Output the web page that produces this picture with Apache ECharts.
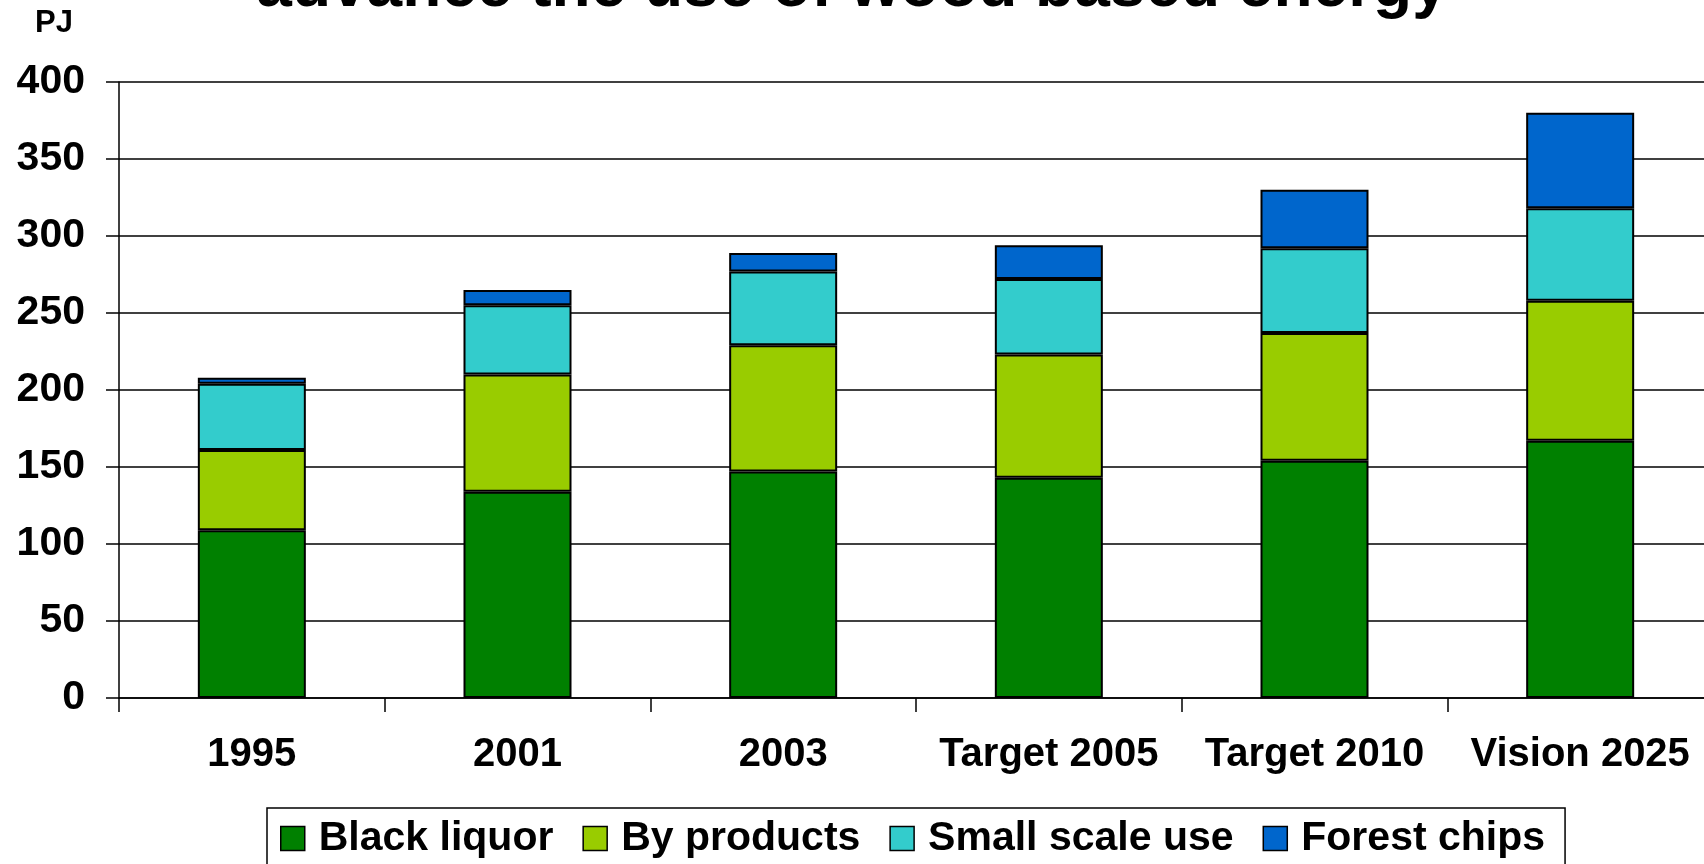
<!DOCTYPE html>
<html>
<head>
<meta charset="utf-8">
<script src="https://cdn.jsdelivr.net/npm/echarts@6/dist/echarts.min.js"></script>
<style>
html,body{margin:0;padding:0;background:#fff;}
#chart{width:1704px;height:864px;}
</style>
</head>
<body>
<div id="chart"></div>
<script>
const titleText = 'advance the use of wood based energy';
const unitLabel = 'PJ';
const categories = ['1995', '2001', '2003', 'Target 2005', 'Target 2010', 'Vision 2025'];
const seriesNames = ['Black liquor', 'By products', 'Small scale use', 'Forest chips'];
const blackLiquor = [109, 134, 147, 143, 154, 167];
const byProducts = [52, 76, 82, 80, 83, 91];
const smallScaleUse = [43, 45, 48, 49, 55, 60];
const forestChips = [4, 10, 12, 22, 38, 62];
const colors = ['#008000', '#99CC00', '#33CCCC', '#0066CC'];

const FONT = '"Liberation Sans", Arial, sans-serif';
const chart = echarts.init(document.getElementById('chart'), null, {renderer: 'canvas'});
const values = [blackLiquor, byProducts, smallScaleUse, forestChips];

const option = {
  animation: false,
  backgroundColor: '#fff',
  title: {
    text: titleText,
    left: 'center',
    top: -44,
    padding: 0,
    textStyle: {fontSize: 64, fontWeight: 'bold', color: '#000', fontFamily: FONT}
  },
  graphic: [{
    type: 'text',
    left: 35,
    top: 8,
    style: {text: unitLabel, font: 'bold 31px ' + FONT, fill: '#000'}
  }],
  legend: {
    left: 267,
    top: 808,
    orient: 'horizontal',
    padding: [10, 20, 12, 13],
    itemGap: 29,
    itemWidth: 24,
    itemHeight: 24,
    borderColor: '#000',
    borderWidth: 1.5,
    icon: 'rect',
    itemStyle: {borderColor: '#000', borderWidth: 1.5},
    textStyle: {fontSize: 41, fontWeight: 'bold', color: '#000', fontFamily: FONT, padding: [0, 0, 0, 9]},
    data: seriesNames
  },
  grid: {left: 119, width: 1594, top: 82, bottom: 166, containLabel: false, outerBoundsMode: 'none'},
  xAxis: {
    type: 'category',
    data: categories,
    boundaryGap: true,
    axisLine: {show: true, lineStyle: {color: '#000', width: 1.5}},
    axisTick: {show: true, length: 14, lineStyle: {color: '#000', width: 1.5}},
    axisLabel: {margin: 37, fontSize: 40, fontWeight: 'bold', color: '#000', fontFamily: FONT, interval: 0},
    splitLine: {show: false}
  },
  yAxis: {
    type: 'value',
    min: 0,
    max: 400,
    interval: 50,
    axisLine: {show: true, lineStyle: {color: '#000', width: 1.5}},
    axisTick: {show: true, length: 13, lineStyle: {color: '#000', width: 1.5}},
    axisLabel: {margin: 34, fontSize: 41, fontWeight: 'bold', color: '#000', fontFamily: FONT},
    splitLine: {show: true, lineStyle: {color: '#000', width: 1.5}}
  },
  series: seriesNames.map((name, i) => ({
    name: name,
    type: 'bar',
    stack: 'total',
    barWidth: 108,
    data: values[i],
    itemStyle: {color: colors[i], borderColor: '#000', borderWidth: 2}
  }))
};
chart.setOption(option);
</script>
</body>
</html>
